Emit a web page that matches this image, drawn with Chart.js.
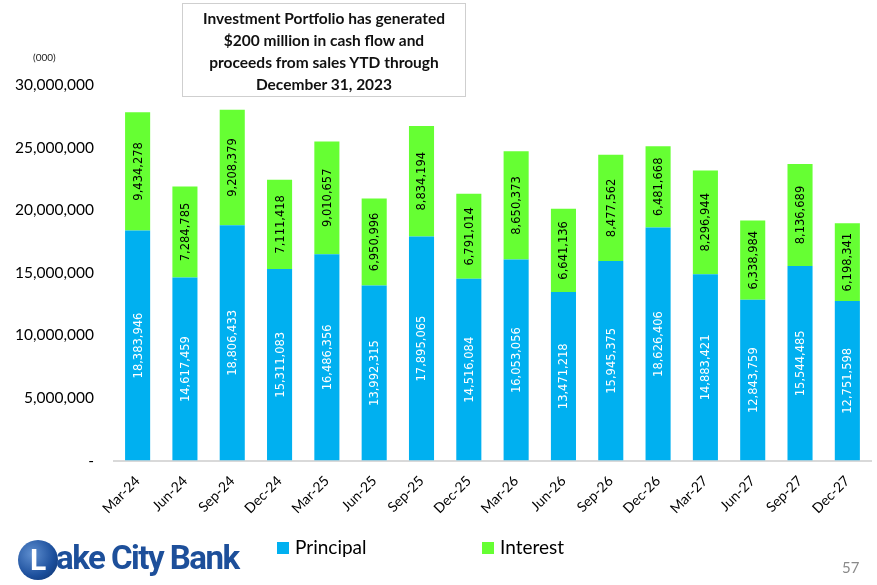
<!DOCTYPE html>
<html>
<head>
<meta charset="utf-8">
<script src="https://cdn.jsdelivr.net/npm/chart.js@4.4.1/dist/chart.umd.min.js"></script>
<style>
  body { margin: 0; background: #fff; }
  #wrap { position: relative; width: 877px; height: 585px; overflow: hidden; }
  #covidChart { position: absolute; left: -17px; top: 0; }
  #titlebox {
    position: absolute; left: 182px; top: 3px; width: 284px; height: 94px;
    border: 1px solid #cfcfcf; box-sizing: border-box;
    font-family: Lato, sans-serif; font-weight: bold; font-size: 15.5px;
    line-height: 22px; text-align: center; color: #111; padding-top: 3px;
  }
  #units { position: absolute; left: 33px; top: 51px; font: 10px Lato, sans-serif; color: #222; }
  #legend { position: absolute; top: 535px; left: 0; font: 19px Lato, sans-serif; color: #000; }
  #legend span { position: absolute; white-space: nowrap; }
  #legend i { display: inline-block; width: 12px; height: 12px; margin-right: 6px; vertical-align: 0; }
  #logo { position: absolute; left: 18px; top: 538px; height: 44px; }
  #logo .ball {
    position: absolute; left: 0; top: 2px; width: 40px; height: 40px; border-radius: 50%;
    background: radial-gradient(circle at 35% 35%, #5f8fd0, #1c4f9c 60%, #0d2f66);
    color: #fff; font: bold 30px Roboto, sans-serif; text-align: center; line-height: 40px;
  }
  #logo .txt {
    position: absolute; left: 38px; top: 0; white-space: nowrap;
    font: bold 33px Roboto, sans-serif; letter-spacing: -1.5px; color: #1d4f9a;
  }
  #page { position: absolute; left: 842px; top: 558px; font: 15px Lato, sans-serif; color: #8a8a8a; }
</style>
</head>
<body>
<div id="wrap">
  <canvas id="covidChart" width="894" height="585"></canvas>
  <div id="titlebox">Investment Portfolio has generated<br>$200 million in cash flow and<br>proceeds from sales YTD through<br>December 31, 2023</div>
  <div id="units">(000)</div>
  <div id="legend"></div>
  <div id="logo"><div class="ball">L</div><div class="txt">ake City Bank</div></div>
  <div id="page">57</div>
</div>
<script>
var quarters = ["Mar-24", "Jun-24", "Sep-24", "Dec-24", "Mar-25", "Jun-25", "Sep-25", "Dec-25",
  "Mar-26", "Jun-26", "Sep-26", "Dec-26", "Mar-27", "Jun-27", "Sep-27", "Dec-27"]

var principal = [18383946, 14617459, 18806433, 15311083, 16486356, 13992315, 17895065, 14516084,
  16053056, 13471218, 15945375, 18626406, 14883421, 12843759, 15544485, 12751598]

var interest = [9434278, 7284785, 9208379, 7111418, 9010657, 6950996, 8834194, 6791014,
  8650373, 6641136, 8477562, 6481668, 8296944, 6338984, 8136689, 6198341]

var yTicks = [0, 5000000, 10000000, 15000000, 20000000, 25000000, 30000000]

// draws the rotated numbers inside each bar segment
var barLabels = {
  id: 'barLabels',
  afterDatasetsDraw: function (chart) {
    var ctx = chart.ctx
    chart.data.datasets.forEach(function (ds, i) {
      var meta = chart.getDatasetMeta(i)
      meta.data.forEach(function (bar, j) {
        var mid = (bar.y + bar.base) / 2
        ctx.save()
        ctx.translate(bar.x, mid)
        ctx.rotate(-Math.PI / 2)
        ctx.font = '11.5px "DejaVu Sans"'
        ctx.fillStyle = ds.labelColor
        ctx.textAlign = 'center'
        ctx.textBaseline = 'middle'
        ctx.fillText(ds.data[j].toLocaleString('en-US'), 0, 1)
        ctx.restore()
      })
    })
  }
}

var Chartdata = document.getElementById("covidChart").getContext('2d')

var chart = new Chart(Chartdata, {
  type: "bar",
  data: {
    labels: quarters,
    datasets: [
      {
        label: "Principal",
        data: principal,
        backgroundColor: "#00b0f0",
        labelColor: "#ffffff",
        categoryPercentage: 1,
        barPercentage: 0.53
      },
      {
        label: "Interest",
        data: interest,
        backgroundColor: "#66ff33",
        labelColor: "#000000",
        categoryPercentage: 1,
        barPercentage: 0.53
      }
    ]
  },
  options: {
    responsive: false,
    animation: false,
    layout: { padding: { top: 85, right: 6, left: 12, bottom: 56 } },
    plugins: {
      title: { display: false },
      tooltip: { enabled: false },
      legend: { display: false }
    },
    scales: {
      x: {
        stacked: true,
        grid: { display: false, drawTicks: false },
        border: { display: true, color: '#d9d9d9', width: 2 },
        ticks: {
          minRotation: 45, maxRotation: 45, padding: 12,
          color: '#000', font: { family: 'Lato', size: 14 }
        }
      },
      y: {
        stacked: true,
        min: 0, max: 30000000,
        afterBuildTicks: function (axis) {
          axis.ticks = yTicks.map(function (v) { return { value: v } })
        },
        grid: { display: false, drawTicks: false },
        border: { display: false },
        ticks: {
          padding: 20,
          color: '#000', font: { family: 'Lato', size: 15.5 },
          callback: function (v) { return v === 0 ? '-' : v.toLocaleString('en-US') }
        }
      }
    }
  },
  plugins: [barLabels]
})

// legend built from the dataset list
var legendX = [277, 482]
chart.data.datasets.forEach(function (ds, i) {
  var item = document.createElement('span')
  item.style.left = legendX[i] + 'px'
  item.innerHTML = '<i style="background:' + ds.backgroundColor + '"></i>' + ds.label
  document.getElementById('legend').appendChild(item)
})
</script>
</body>
</html>
